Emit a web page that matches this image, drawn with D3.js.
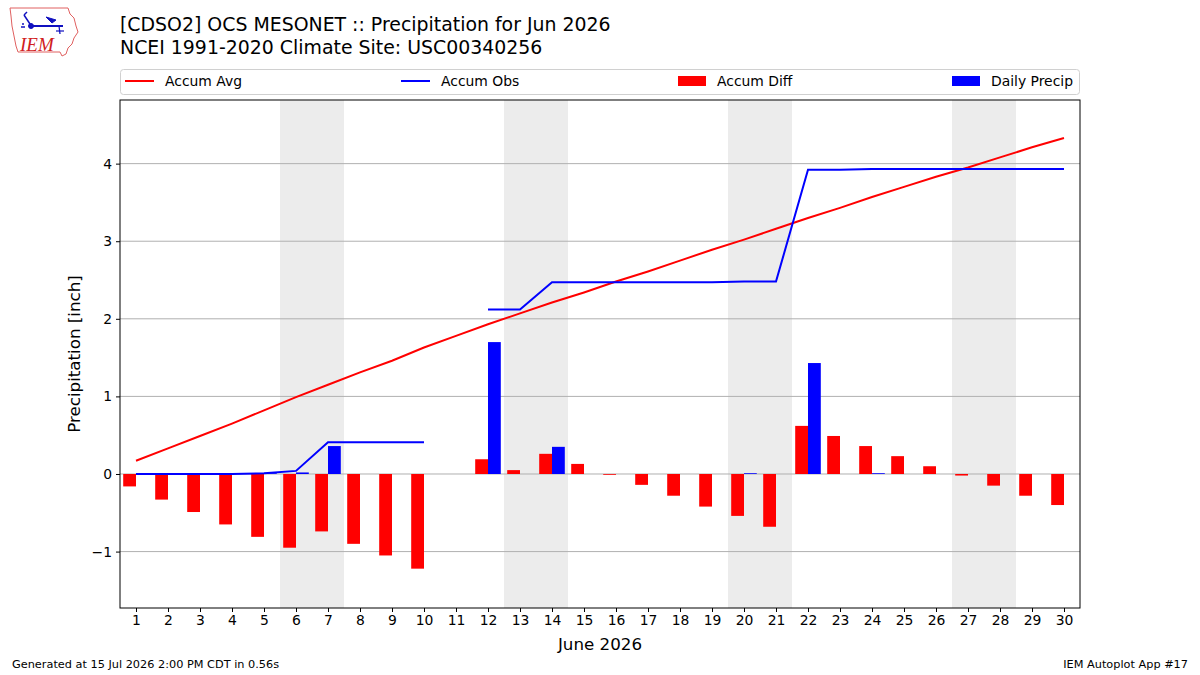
<!DOCTYPE html>
<html>
<head>
<meta charset="utf-8">
<script src="https://cdn.jsdelivr.net/npm/d3@7"></script>
<style>
  body { margin: 0; background: #fff; }
  svg { display: block; font-family: "DejaVu Sans", sans-serif; }
</style>
</head>
<body>
<svg id="chart" width="1200" height="675"></svg>
<script>
// ---- data ----
const days = d3.range(1, 31);
const accumAvg = [0.17, 0.33, 0.49, 0.65, 0.82, 0.99, 1.15, 1.31, 1.46, 1.63,
  1.78, 1.93, 2.07, 2.21, 2.34, 2.48, 2.61, 2.75, 2.89, 3.02,
  3.16, 3.30, 3.43, 3.57, 3.70, 3.83, 3.95, 4.08, 4.21, 4.33];
const accumObs = [0.0, 0.0, 0.0, 0.0, 0.01, 0.04, 0.41, 0.41, 0.41, 0.41,
  null, 2.12, 2.12, 2.47, 2.47, 2.47, 2.47, 2.47, 2.47, 2.48,
  2.48, 3.92, 3.92, 3.93, 3.93, 3.93, 3.93, 3.93, 3.93, 3.93];
const accumDiff = [-0.16, -0.33, -0.49, -0.65, -0.81, -0.95, -0.74, -0.90, -1.05, -1.22,
  null, 0.19, 0.05, 0.26, 0.13, -0.01, -0.14, -0.28, -0.42, -0.54,
  -0.68, 0.62, 0.49, 0.36, 0.23, 0.10, -0.02, -0.15, -0.28, -0.40];
const dailyPrecip = [0, 0, 0, 0, 0.01, 0.02, 0.36, 0, 0, 0,
  null, 1.70, 0, 0.35, 0, 0, 0, 0, 0, 0.01,
  0, 1.43, 0, 0.01, 0, 0, 0, 0, 0, 0];
const weekendDays = [6, 7, 13, 14, 20, 21, 27, 28];
const yTicks = [-1, 0, 1, 2, 3, 4];
const titleLines = ["[CDSO2] OCS MESONET :: Precipitation for Jun 2026",
  "NCEI 1991-2020 Climate Site: USC00340256"];
const legendItems = [
  {label: "Accum Avg", kind: "line", color: "red"},
  {label: "Accum Obs", kind: "line", color: "blue"},
  {label: "Accum Diff", kind: "patch", color: "red"},
  {label: "Daily Precip", kind: "patch", color: "blue"}
];

// ---- layout ----
const svg = d3.select("#chart");
const L = 120, R = 1080, T = 100, B = 608;
const x = d3.scaleLinear().domain([0.5, 30.5]).range([L, R]);
const y = d3.scaleLinear().domain([-1.727, 4.82]).range([B, T]);

// weekend shading
svg.append("g").selectAll("rect").data(weekendDays).join("rect")
  .attr("x", d => x(d - 0.5)).attr("width", x(1.5) - x(0.5))
  .attr("y", T).attr("height", B - T).attr("fill", "#ececec");

// grid
svg.append("g").selectAll("line").data(yTicks).join("line")
  .attr("x1", L).attr("x2", R).attr("y1", d => y(d)).attr("y2", d => y(d))
  .attr("stroke", "#b0b0b0").attr("stroke-width", 1);

const bw = x(0.4) - x(0);
// diff bars
svg.append("g").selectAll("rect").data(days.filter((d, i) => accumDiff[i] !== null))
  .join("rect")
  .attr("x", d => x(d - 0.4)).attr("width", bw)
  .attr("y", d => y(Math.max(0, accumDiff[d - 1])))
  .attr("height", d => Math.abs(y(accumDiff[d - 1]) - y(0)))
  .attr("fill", "red");
// daily bars
svg.append("g").selectAll("rect").data(days.filter((d, i) => dailyPrecip[i]))
  .join("rect")
  .attr("x", d => x(d)).attr("width", bw)
  .attr("y", d => y(dailyPrecip[d - 1]))
  .attr("height", d => y(0) - y(dailyPrecip[d - 1]))
  .attr("fill", "blue");

// lines
const line = d3.line().defined(d => d[1] !== null).x(d => x(d[0])).y(d => y(d[1]));
svg.append("path").datum(days.map((d, i) => [d, accumAvg[i]]))
  .attr("d", line).attr("fill", "none").attr("stroke", "red").attr("stroke-width", 2);
svg.append("path").datum(days.map((d, i) => [d, accumObs[i]]))
  .attr("d", line).attr("fill", "none").attr("stroke", "blue").attr("stroke-width", 2);

// frame
svg.append("rect").attr("x", L).attr("y", T).attr("width", R - L).attr("height", B - T)
  .attr("fill", "none").attr("stroke", "black").attr("stroke-width", 1);

// axes
const xAxis = d3.axisBottom(x).tickValues(days).tickSize(4).tickPadding(3);
const gx = svg.append("g").attr("transform", `translate(0,${B})`).call(xAxis);
gx.select(".domain").remove();
gx.selectAll("text").attr("font-size", 13.9).attr("font-family", "DejaVu Sans").attr("fill", "#000");
const yAxis = d3.axisLeft(y).tickValues(yTicks).tickSize(4).tickPadding(4)
  .tickFormat(d => d < 0 ? "\u2212" + Math.abs(d) : d);
const gy = svg.append("g").attr("transform", `translate(${L},0)`).call(yAxis);
gy.select(".domain").remove();
gy.selectAll("text").attr("font-size", 13.9).attr("font-family", "DejaVu Sans").attr("fill", "#000");

svg.append("text").attr("x", (L + R) / 2).attr("y", 650).attr("text-anchor", "middle")
  .attr("font-size", 16.7).text("June 2026");
svg.append("text").attr("transform", `translate(80,${(T + B) / 2}) rotate(-90)`)
  .attr("text-anchor", "middle").attr("font-size", 16.7).text("Precipitation [inch]");

// title
svg.append("g").selectAll("text").data(titleLines).join("text")
  .attr("x", 120).attr("y", (d, i) => 31 + i * 23).attr("font-size", 18.9).text(d => d);

// legend
svg.append("rect").attr("x", 120.5).attr("y", 69.5).attr("width", 959).attr("height", 25)
  .attr("rx", 3).attr("fill", "white").attr("stroke", "#d0d0d0");
const legX = [125, 401, 678, 952];
const lg = svg.append("g").selectAll("g").data(legendItems).join("g")
  .attr("transform", (d, i) => `translate(${legX[i]},81)`);
lg.filter(d => d.kind === "line").append("line")
  .attr("x1", 0).attr("x2", 29).attr("stroke", d => d.color).attr("stroke-width", 2);
lg.filter(d => d.kind === "patch").append("rect")
  .attr("x", 0).attr("y", -5).attr("width", 28).attr("height", 10).attr("fill", d => d.color);
lg.append("text").attr("x", (d, i) => i < 2 ? 40 : 39).attr("y", 5)
  .attr("font-size", 13.9).text(d => d.label);

// footer
svg.append("text").attr("x", 12).attr("y", 668).attr("font-size", 11.3).text("Generated at 15 Jul 2026 2:00 PM CDT in 0.56s");
svg.append("text").attr("x", 1188).attr("y", 668).attr("text-anchor", "end").attr("font-size", 11.3).text("IEM Autoplot App #17");

// logo
const logo = svg.append("g").attr("transform", "translate(8,6)");
logo.append("path")
  .attr("d", "M2,2 L60,2 L62,8 L66,12 L68,20 L70,26 L66,32 L64,38 L60,42 L58,48 L54,50 L52,46 L10,46 L8,40 L6,30 L4,20 L3,10 Z")
  .attr("fill", "white").attr("stroke", "#e06060").attr("stroke-width", 1);
logo.append("text").attr("x", 12).attr("y", 45).attr("font-family", "Liberation Serif, serif")
  .attr("font-style", "italic").attr("font-size", 19).attr("fill", "#d02020").text("IEM");
const vane = logo.append("g").attr("stroke", "#1010c0").attr("fill", "#1010c0");
vane.append("line").attr("x1", 22).attr("y1", 20).attr("x2", 55).attr("y2", 20).attr("stroke-width", 2);
vane.append("circle").attr("cx", 23).attr("cy", 20).attr("r", 2.5);
vane.append("line").attr("x1", 22).attr("y1", 18).attr("x2", 16).attr("y2", 9).attr("stroke-width", 1.5);
vane.append("line").attr("x1", 16).attr("y1", 9).attr("x2", 19).attr("y2", 6).attr("stroke-width", 1.5);
vane.append("path").attr("d", "M38,11 L48,14 L44,17 Z");
vane.append("line").attr("x1", 51).attr("y1", 20).attr("x2", 52).attr("y2", 28).attr("stroke-width", 1.2);
vane.append("line").attr("x1", 48).attr("y1", 25).attr("x2", 56).attr("y2", 25).attr("stroke-width", 1.2);
vane.append("circle").attr("cx", 14).attr("cy", 21).attr("r", 1).attr("stroke", "none");
vane.append("circle").attr("cx", 16).attr("cy", 21).attr("r", 1).attr("stroke", "none");
vane.append("circle").attr("cx", 15).attr("cy", 18).attr("r", 1).attr("stroke", "none");
</script>
</body>
</html>
